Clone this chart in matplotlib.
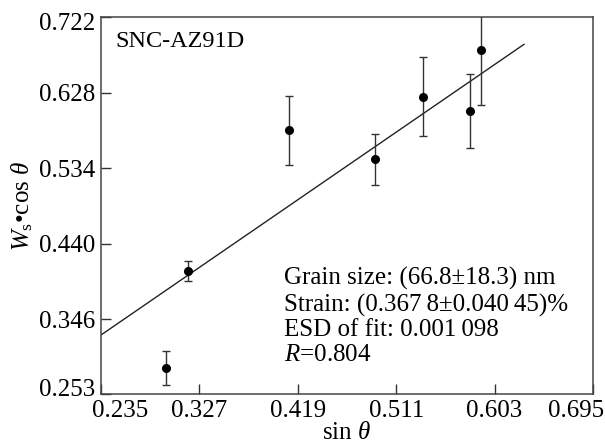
import matplotlib
matplotlib.use("Agg")
import matplotlib.pyplot as plt
from matplotlib.transforms import ScaledTranslation

plt.rcParams["font.family"] = ["Liberation Serif", "DejaVu Serif"]
plt.rcParams["mathtext.fontset"] = "custom"
plt.rcParams["mathtext.rm"] = "Liberation Serif"
plt.rcParams["mathtext.it"] = "Liberation Serif:italic"

# --- Data ---
SIN_THETA = [0.2955, 0.316, 0.411, 0.491, 0.536, 0.580, 0.590]
WS_COS = [0.285, 0.406, 0.581, 0.545, 0.623, 0.605, 0.681]
ERR = [0.021, 0.012, 0.043, 0.032, 0.049, 0.046, 0.068]

FIT_X = [0.235, 0.6305]
FIT_Y = [0.3264, 0.688]

X_TICKS = [0.235, 0.327, 0.419, 0.511, 0.603, 0.695]
Y_TICKS = [0.253, 0.346, 0.440, 0.534, 0.628, 0.722]

NOTE = (
    "Grain size: (66.8\u00b118.3) nm\n"
    "Strain: (0.367\u20098\u00b10.040\u200945)%\n"
    "ESD of fit: 0.001\u2009098\n"
    "$R$=0.804"
)

FS = 18


def shift(label, dx, dy):
    """Move a tick label by dx, dy pixels."""
    label.set_transform(label.get_transform()
                        + ScaledTranslation(dx / 100, dy / 100,
                                            fig.dpi_scale_trans))


fig = plt.figure(figsize=(6.05, 4.47), dpi=100)
ax = fig.add_axes([101 / 605, 1 - 394 / 447, 492 / 605, 377 / 447])

ax.plot(FIT_X, FIT_Y, color="#222222", linewidth=1.0)
ax.errorbar(
    SIN_THETA,
    WS_COS,
    yerr=ERR,
    fmt="o",
    color="black",
    markersize=5.5,
    ecolor="#333333",
    elinewidth=1.0,
    capsize=3,
    capthick=1.0,
)

ax.set_xlim(0.235, 0.695)
ax.set_ylim(0.253, 0.722)
ax.set_xticks(X_TICKS)
ax.set_yticks(Y_TICKS)
ax.set_xticklabels([f"{v:.3f}" for v in X_TICKS])
ax.set_yticklabels([f"{v:.3f}" for v in Y_TICKS])
ax.tick_params(direction="in", length=7, width=1.0, labelsize=FS, pad=4,
               color="#333333")
for spine in ax.spines.values():
    spine.set_color("#444444")
    spine.set_linewidth(1.1)

# end labels are nudged inwards as in the original figure
shift(ax.get_xticklabels()[0], 19, 0)
shift(ax.get_xticklabels()[-1], -17, 0)
shift(ax.get_yticklabels()[0], 0, 6)
shift(ax.get_yticklabels()[-1], 0, -5)

ax.set_xlabel(r"sin $\theta$", fontsize=FS, labelpad=0)
ax.set_ylabel(r"$W_\mathrm{s}$" + "\u2022cos " + r"$\theta$", fontsize=FS,
              labelpad=3)

ax.text(0.03, 0.935, "SNC-AZ91D", transform=ax.transAxes, fontsize=17.5,
        va="center", ha="left")
ax.text(0.371, 0.336, NOTE, transform=ax.transAxes, fontsize=FS,
        va="top", ha="left", linespacing=1.17)

fig.savefig("out.png", dpi=100)
